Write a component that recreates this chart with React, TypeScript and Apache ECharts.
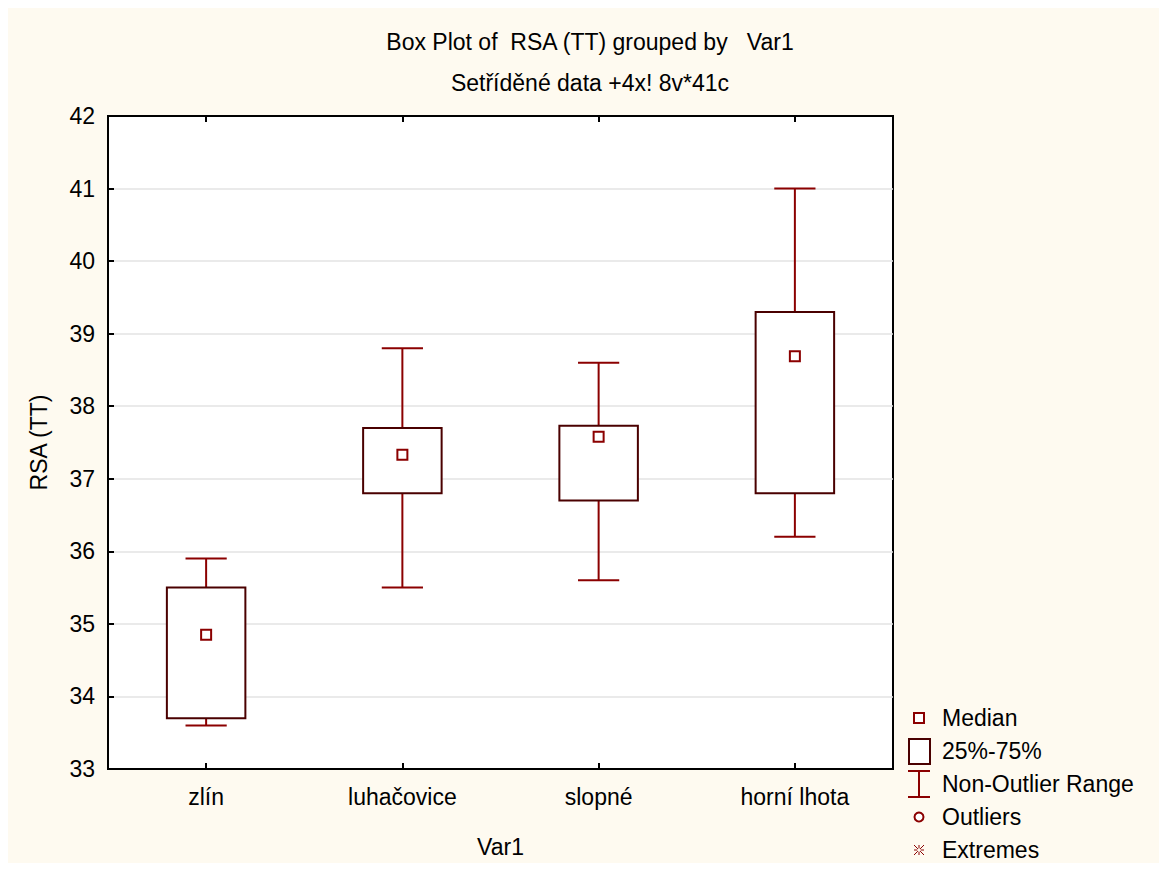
import React, { useEffect, useRef } from "react";
import * as echarts from "echarts";

const categories = ["zlín", "luhačovice", "slopné", "horní lhota"];
const minValues = [33.6, 35.5, 35.6, 36.2];
const q1Values = [33.7, 36.8, 36.7, 36.8];
const medianValues = [34.85, 37.33, 37.58, 38.69];
const q3Values = [35.5, 37.7, 37.73, 39.3];
const maxValues = [35.9, 38.8, 38.6, 41.0];

const yMin = 33;
const yMax = 42;
const yInterval = 1;

const titleText = "Box Plot of  RSA (TT) grouped by   Var1";
const subtitleText = "Setříděné data +4x! 8v*41c";
const yName = "RSA (TT)";
const xName = "Var1";
const legendLabels = ["Median", "25%-75%", "Non-Outlier Range", "Outliers", "Extremes"];

const FONT = "'Liberation Sans', Arial, sans-serif";
const FS = 23;
const WHISKER = "#8b0000";
const BOXLINE = "#4a0000";

export default function App() {
  const ref = useRef<HTMLDivElement>(null);
  useEffect(() => {
    if (!ref.current) return;
    const chart = echarts.init(ref.current, null, { renderer: "svg" });
    const data = categories.map((_, i) => [
      i,
      minValues[i],
      q1Values[i],
      medianValues[i],
      q3Values[i],
      maxValues[i],
    ]);

    const renderItem = (params: any, api: any) => {
      const x = api.value(0);
      const pMin = api.coord([x, api.value(1)]);
      const pQ1 = api.coord([x, api.value(2)]);
      const pMed = api.coord([x, api.value(3)]);
      const pQ3 = api.coord([x, api.value(4)]);
      const pMax = api.coord([x, api.value(5)]);
      const band = api.size([1, 0])[0];
      const bw = band * 0.4;
      const cw = band * 0.21;
      const cx = pMed[0];
      const lineStyle = { stroke: WHISKER, lineWidth: 2 };
      return {
        type: "group",
        children: [
          { type: "line", shape: { x1: cx, y1: pMax[1], x2: cx, y2: pQ3[1] }, style: lineStyle },
          { type: "line", shape: { x1: cx, y1: pQ1[1], x2: cx, y2: pMin[1] }, style: lineStyle },
          { type: "line", shape: { x1: cx - cw / 2, y1: pMax[1], x2: cx + cw / 2, y2: pMax[1] }, style: lineStyle },
          { type: "line", shape: { x1: cx - cw / 2, y1: pMin[1], x2: cx + cw / 2, y2: pMin[1] }, style: lineStyle },
          {
            type: "rect",
            shape: { x: cx - bw / 2, y: pQ3[1], width: bw, height: pQ1[1] - pQ3[1] },
            style: { fill: "#ffffff", stroke: BOXLINE, lineWidth: 2 },
          },
          {
            type: "rect",
            shape: { x: cx - 5, y: pMed[1] - 5, width: 10, height: 10 },
            style: { fill: "#ffffff", stroke: WHISKER, lineWidth: 2 },
          },
        ],
      };
    };

    const lx = 911;
    const tx = 934;
    const legendY = [710, 743, 776, 809, 842];
    const textStyle = (t: string, y: number) => ({
      type: "text",
      left: tx,
      top: y - FS / 2,
      style: { text: t, fontSize: FS, fontFamily: FONT, fill: "#000" },
    });
    const ast = 5;
    const graphics: any[] = [
      {
        type: "rect",
        shape: { x: lx - 5, y: legendY[0] - 5, width: 10, height: 10 },
        style: { fill: "#fff", stroke: WHISKER, lineWidth: 2 },
      },
      {
        type: "rect",
        shape: { x: lx - 10, y: legendY[1] - 12, width: 21, height: 25 },
        style: { fill: "#fff", stroke: BOXLINE, lineWidth: 2 },
      },
      { type: "line", shape: { x1: lx - 11, y1: legendY[2] - 13, x2: lx + 11, y2: legendY[2] - 13 }, style: { stroke: WHISKER, lineWidth: 2 } },
      { type: "line", shape: { x1: lx - 11, y1: legendY[2] + 13, x2: lx + 11, y2: legendY[2] + 13 }, style: { stroke: WHISKER, lineWidth: 2 } },
      { type: "line", shape: { x1: lx, y1: legendY[2] - 13, x2: lx, y2: legendY[2] + 13 }, style: { stroke: WHISKER, lineWidth: 2 } },
      { type: "circle", shape: { cx: lx, cy: legendY[3], r: 4.5 }, style: { fill: "#fff", stroke: WHISKER, lineWidth: 2 } },
      { type: "line", shape: { x1: lx - ast, y1: legendY[4], x2: lx + ast, y2: legendY[4] }, style: { stroke: WHISKER, lineWidth: 1 } },
      { type: "line", shape: { x1: lx, y1: legendY[4] - ast, x2: lx, y2: legendY[4] + ast }, style: { stroke: WHISKER, lineWidth: 1 } },
      { type: "line", shape: { x1: lx - ast, y1: legendY[4] - ast, x2: lx + ast, y2: legendY[4] + ast }, style: { stroke: WHISKER, lineWidth: 1 } },
      { type: "line", shape: { x1: lx - ast, y1: legendY[4] + ast, x2: lx + ast, y2: legendY[4] - ast }, style: { stroke: WHISKER, lineWidth: 1 } },
      { type: "circle", shape: { cx: lx, cy: legendY[4], r: 1.8 }, style: { fill: "#fefaf0", stroke: "none" } },
      ...legendLabels.map((t, i) => textStyle(t, legendY[i])),
    ];

    chart.setOption({
      animation: false,
      backgroundColor: "#fefaf0",
      textStyle: { fontFamily: FONT },
      title: [
        {
          text: titleText,
          left: 577,
          top: 17,
          textAlign: "center",
          textStyle: { fontSize: FS, fontWeight: "normal", color: "#000", fontFamily: FONT },
        },
        {
          text: subtitleText,
          left: 577,
          top: 58,
          textAlign: "center",
          textStyle: { fontSize: FS, fontWeight: "normal", color: "#000", fontFamily: FONT },
        },
      ],
      grid: {
        left: 100,
        top: 108,
        right: 266,
        bottom: 91,
        show: true,
        backgroundColor: "#ffffff",
        borderColor: "#000",
        borderWidth: 2,
      },
      xAxis: [
        {
          type: "category",
          data: categories,
          position: "bottom",
          axisLine: { show: true, lineStyle: { color: "#000", width: 2 } },
          axisTick: { show: true, inside: true, alignWithLabel: true, length: 6, lineStyle: { color: "#000", width: 2 } },
          axisLabel: { fontSize: FS, color: "#000", margin: 16, fontFamily: FONT },
          splitLine: { show: false },
          name: xName,
          nameLocation: "middle",
          nameGap: 66,
          nameTextStyle: { fontSize: FS, color: "#000", fontFamily: FONT },
        },
        {
          type: "category",
          data: categories,
          position: "top",
          axisLine: { show: true, lineStyle: { color: "#000", width: 2 } },
          axisTick: { show: true, inside: true, alignWithLabel: true, length: 6, lineStyle: { color: "#000", width: 2 } },
          axisLabel: { show: false },
          splitLine: { show: false },
        },
      ],
      yAxis: {
        type: "value",
        min: yMin,
        max: yMax,
        interval: yInterval,
        axisLine: { show: true, lineStyle: { color: "#000", width: 2 } },
        axisTick: { show: true, inside: true, length: 6, lineStyle: { color: "#000", width: 2 } },
        axisLabel: { fontSize: FS, color: "#000", margin: 13, fontFamily: FONT },
        splitLine: { show: true, lineStyle: { color: "#e3e3e3", width: 1.5 } },
        name: yName,
        nameLocation: "middle",
        nameGap: 58,
        nameTextStyle: { fontSize: FS, color: "#000", fontFamily: FONT },
      },
      series: [
        {
          type: "custom",
          xAxisIndex: 0,
          renderItem,
          encode: { x: 0, y: [1, 2, 3, 4, 5] },
          data,
          clip: false,
        },
      ],
      graphic: graphics,
    });
    return () => chart.dispose();
  }, []);
  return <div ref={ref} style={{ width: 1151, height: 855 }} />;
}
